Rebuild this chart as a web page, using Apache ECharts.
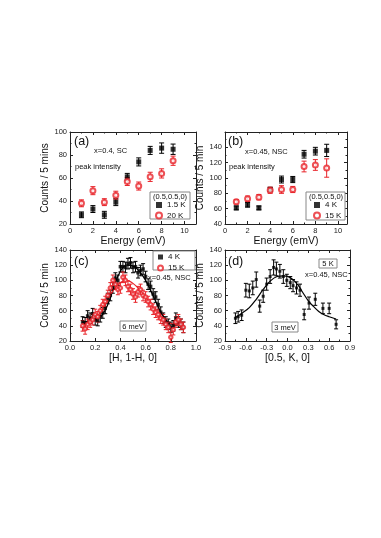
<!DOCTYPE html>
<html>
<head>
<meta charset="utf-8">
<script src="https://cdn.jsdelivr.net/npm/echarts@6/dist/echarts.min.js"></script>
<style>
  html, body { margin: 0; padding: 0; background: #fff; }
  #chart { width: 381px; height: 538px; }
</style>
</head>
<body>
<div id="chart"></div>
<script>
// panel (a): x=0.4 SC, peak intensity vs energy
var aEnergy = [1, 2, 3, 4, 5, 6, 7, 8, 9];
var aCold = [28, 33, 28, 39, 61, 74, 84, 86, 85];       // 1.5 K
var aColdErr = [2.5, 3, 3, 3, 3, 3.5, 3.5, 4.5, 4.5];
var aWarm = [38, 49, 39, 45, 57, 53, 61, 64, 75];       // 20 K
var aWarmErr = [3, 3.5, 3, 3.5, 3.5, 3.5, 4, 4, 4];

// panel (b): x=0.45 NSC
var bEnergy = [1, 2, 3, 4, 5, 6, 7, 8, 9];
var bCold = [61, 65, 61, 85, 98, 98, 131, 135, 136];   // 4 K
var bColdErr = [2.5, 3, 2.5, 3, 4.5, 4, 5, 5, 8];
var bWarm = [69, 73, 75, 84, 85, 85, 115, 117, 113];   // 15 K
var bWarmErr = [3, 3.5, 3.5, 4, 5, 4, 7, 7, 12];

// panel (c): scan along [H, 1-H, 0] at 6 meV
var cH = [0.10, 0.12, 0.14, 0.16, 0.18, 0.20, 0.22, 0.24, 0.26, 0.28, 0.30, 0.32, 0.34, 0.36,
  0.38, 0.40, 0.42, 0.44, 0.46, 0.48, 0.50, 0.52, 0.54, 0.56, 0.58, 0.60, 0.62, 0.64, 0.66,
  0.68, 0.70, 0.72, 0.74, 0.76, 0.78, 0.80, 0.82, 0.84, 0.86, 0.88, 0.90];
var cCold = [45, 44, 53, 50, 56, 48, 47, 52, 57, 63, 76, 80, 90, 103,
  100, 118, 118, 117, 122, 123, 117, 118, 110, 113, 115, 105, 95, 92, 82,
  78, 68, 58, 50, 45, 42, 38, 40, 50, 45, 42, 38];
var cWarm = [40, 36, 42, 45, 48, 55, 52, 60, 68, 72, 80, 90, 100, 95,
  88, 90, 104, 100, 92, 88, 82, 78, 85, 88, 80, 78, 72, 68, 62,
  58, 55, 50, 48, 42, 38, 25, 35, 45, 48, 42, 38];
var cErr = 7;
var cFitX = [0.10, 0.15, 0.20, 0.25, 0.30, 0.35, 0.40, 0.45, 0.50, 0.55, 0.60, 0.65, 0.70, 0.75, 0.80, 0.85, 0.90];
var cFitCold = [45, 46, 48, 53, 68, 92, 112, 120, 119, 112, 100, 83, 65, 50, 43, 41, 40];
var cFitWarm = [42, 45, 50, 60, 75, 88, 97, 100, 96, 88, 78, 66, 55, 47, 43, 41, 40];

// panel (d): scan along [0.5, K, 0] at 3 meV, 5 K
var dK = [-0.75, -0.71, -0.66, -0.60, -0.55, -0.50, -0.45, -0.40, -0.35, -0.30, -0.25, -0.20,
  -0.16, -0.11, -0.06, -0.01, 0.04, 0.08, 0.13, 0.18, 0.24, 0.31, 0.40, 0.51, 0.60, 0.70];
var dCounts = [50, 52, 54, 87, 86, 90, 101, 66, 79, 95, 105, 117,
  115, 112, 105, 100, 97, 93, 90, 87, 55, 70, 75, 63, 63, 42];
var dErr = [7, 7, 7, 9, 9, 9, 10, 8, 8, 8, 9, 10,
  9, 9, 9, 8, 8, 8, 8, 8, 7, 8, 8, 7, 7, 6];
var dFitX = [-0.75, -0.65, -0.55, -0.45, -0.35, -0.25, -0.15, -0.05, 0.05, 0.15, 0.22, 0.30, 0.37, 0.45, 0.52, 0.60, 0.70];
var dFit = [51, 57, 64, 75, 88, 99, 105, 106, 103, 94, 84, 73, 66, 59, 55, 52, 49];

var RED = '#e8242a';
var FONT = 'Liberation Sans';

function pairs(xs, ys) {
  return xs.map(function (x, i) { return [x, ys[i]]; });
}
function errData(xs, ys, es) {
  return xs.map(function (x, i) {
    var e = Array.isArray(es) ? es[i] : es;
    return [x, ys[i] - e, ys[i] + e];
  });
}
function errSeries(p, data, color, cap) {
  return {
    type: 'custom', xAxisIndex: 2 * p, yAxisIndex: 2 * p, z: 1,
    data: data, encode: { x: 0, y: [1, 2] }, silent: true,
    renderItem: function (params, api) {
      var top = api.coord([api.value(0), api.value(2)]);
      var bot = api.coord([api.value(0), api.value(1)]);
      var st = { stroke: color, lineWidth: 1 };
      return {
        type: 'group', children: [
          { type: 'line', shape: { x1: top[0], y1: top[1], x2: bot[0], y2: bot[1] }, style: st },
          { type: 'line', shape: { x1: top[0] - cap, y1: top[1], x2: top[0] + cap, y2: top[1] }, style: st },
          { type: 'line', shape: { x1: bot[0] - cap, y1: bot[1], x2: bot[0] + cap, y2: bot[1] }, style: st }
        ]
      };
    }
  };
}

var grids = [
  { left: 70, top: 132, width: 126, height: 92 },
  { left: 225, top: 132, width: 122, height: 92 },
  { left: 70, top: 250, width: 126, height: 91 },
  { left: 225, top: 250, width: 125, height: 91 }
];

var lineStyle = { color: '#222', width: 1 };
var labelStyle = { fontSize: 7.5, color: '#222', fontFamily: FONT };
var nameStyle = { fontSize: 10.5, color: '#111', fontFamily: FONT };

function xAxes(p, cfg) {
  var base = {
    gridIndex: p, type: 'value', min: cfg.min, max: cfg.max, interval: cfg.interval,
    axisLine: { show: true, onZero: false, lineStyle: lineStyle },
    axisTick: { show: true, inside: true, length: 3, lineStyle: lineStyle },
    minorTick: { show: true, splitNumber: 2, length: 1.5, lineStyle: lineStyle },
    splitLine: { show: false }
  };
  var bottom = Object.assign({}, base, {
    position: 'bottom', name: cfg.name, nameLocation: 'middle', nameGap: cfg.nameGap,
    nameTextStyle: nameStyle,
    axisLabel: Object.assign({ margin: 3, showMaxLabel: cfg.showMax, formatter: cfg.fmt }, labelStyle)
  });
  var top = Object.assign({}, base, { position: 'top', axisLabel: { show: false } });
  return [bottom, top];
}
function yAxes(p, cfg) {
  var base = {
    gridIndex: p, type: 'value', min: cfg.min, max: cfg.max, interval: cfg.interval,
    axisLine: { show: true, onZero: false, lineStyle: lineStyle },
    axisTick: { show: true, inside: true, length: 3, lineStyle: lineStyle },
    minorTick: { show: true, splitNumber: 2, length: 1.5, lineStyle: lineStyle },
    splitLine: { show: false }
  };
  var left = Object.assign({}, base, {
    position: 'left', name: cfg.name, nameLocation: 'middle', nameGap: cfg.nameGap,
    nameTextStyle: Object.assign({}, nameStyle, { fontSize: 10 }),
    axisLabel: Object.assign({ margin: 3, showMaxLabel: cfg.showMax }, labelStyle)
  });
  var right = Object.assign({}, base, { position: 'right', axisLabel: { show: false } });
  return [left, right];
}

var oneDec = function (v) { return v.toFixed(1); };

var xAxis = [].concat(
  xAxes(0, { min: 0, max: 11, interval: 2, name: 'Energy (emV)', nameGap: 9, showMax: false }),
  xAxes(1, { min: 0, max: 10.8, interval: 2, name: 'Energy (emV)', nameGap: 10, showMax: false }),
  xAxes(2, { min: 0, max: 1, interval: 0.2, name: '[H, 1-H, 0]', nameGap: 11, showMax: true, fmt: oneDec }),
  xAxes(3, { min: -0.9, max: 0.9, interval: 0.3, name: '[0.5, K, 0]', nameGap: 11, showMax: true, fmt: oneDec })
);
var yAxis = [].concat(
  yAxes(0, { min: 20, max: 100, interval: 20, name: 'Counts / 5 mins', nameGap: 13, showMax: true }),
  yAxes(1, { min: 40, max: 160, interval: 20, name: 'Counts / 5 min', nameGap: 16, showMax: false }),
  yAxes(2, { min: 20, max: 140, interval: 20, name: 'Counts / 5 min', nameGap: 16, showMax: true }),
  yAxes(3, { min: 20, max: 140, interval: 20, name: 'Counts / 5 min', nameGap: 15, showMax: true })
);

function scatter(p, name, data, symbol, color, size) {
  return {
    type: 'scatter', name: name, xAxisIndex: 2 * p, yAxisIndex: 2 * p, z: 3,
    symbol: symbol, symbolSize: size, data: data,
    itemStyle: symbol === 'emptyCircle' ? { color: RED, borderColor: RED, borderWidth: 1 } : { color: color }
  };
}
function fitLine(p, xs, ys, color) {
  return {
    type: 'line', xAxisIndex: 2 * p, yAxisIndex: 2 * p, z: 2, smooth: 0.4,
    showSymbol: false, silent: true, data: pairs(xs, ys),
    lineStyle: { color: color, width: 1.2 }
  };
}

var series = [
  errSeries(0, errData(aEnergy, aCold, aColdErr), '#000', 2.5),
  errSeries(0, errData(aEnergy, aWarm, aWarmErr), RED, 2.5),
  scatter(0, '1.5 K', pairs(aEnergy, aCold), 'rect', '#000', 5),
  scatter(0, '20 K', pairs(aEnergy, aWarm), 'emptyCircle', RED, 5),

  errSeries(1, errData(bEnergy, bCold, bColdErr), '#000', 2.5),
  errSeries(1, errData(bEnergy, bWarm, bWarmErr), RED, 2.5),
  scatter(1, '4 K', pairs(bEnergy, bCold), 'rect', '#000', 5),
  scatter(1, '15 K', pairs(bEnergy, bWarm), 'emptyCircle', RED, 5),

  errSeries(2, errData(cH, cCold, cErr), '#000', 2),
  errSeries(2, errData(cH, cWarm, cErr), RED, 2),
  fitLine(2, cFitX, cFitCold, '#000'),
  fitLine(2, cFitX, cFitWarm, RED),
  scatter(2, '4 K', pairs(cH, cCold), 'rect', '#000', 3.5),
  scatter(2, '15 K', pairs(cH, cWarm), 'emptyCircle', RED, 3.5),

  errSeries(3, errData(dK, dCounts, dErr), '#000', 2),
  fitLine(3, dFitX, dFit, '#000'),
  scatter(3, '5 K', pairs(dK, dCounts), 'rect', '#000', 3)
];

var legendText = { fontSize: 8, color: '#111', fontFamily: FONT };
var legend = [
  { data: ['1.5 K', '20 K'], left: 155, top: 201, orient: 'vertical', itemWidth: 6, itemHeight: 6,
    itemGap: 2.5, padding: 0, textStyle: legendText, selectedMode: false, z: 20 },
  { data: ['4 K', '15 K'], left: 313, top: 201, orient: 'vertical', itemWidth: 6, itemHeight: 6,
    itemGap: 2.5, padding: 0, textStyle: legendText, selectedMode: false, z: 20 },
  { data: ['4 K', '15 K'], left: 157, top: 253, orient: 'vertical', itemWidth: 5, itemHeight: 5,
    itemGap: 3, padding: 0, textStyle: legendText, selectedMode: false, z: 20 }
];

function txt(x, y, s, size, align) {
  return {
    type: 'text', x: x, y: y, z: 10,
    style: { text: s, fontSize: size, fontFamily: FONT, fill: '#111', align: align || 'left', verticalAlign: 'middle' }
  };
}
function box(x, y, w, h) {
  return {
    type: 'rect', z: 5, shape: { x: x, y: y, width: w, height: h },
    style: { fill: '#fff', stroke: '#888', lineWidth: 1 }
  };
}

var graphic = {
  z: 5,
  elements: [
    txt(74, 142, '(a)', 12.5),
    txt(94, 151, 'x=0.4, SC', 7.5),
    txt(75, 167, 'peak intensity', 7.5),
    box(150, 192, 40, 27),
    txt(170, 197, '(0.5,0.5,0)', 7.5, 'center'),

    txt(228, 142, '(b)', 12.5),
    txt(245, 152, 'x=0.45, NSC', 7.5),
    txt(229, 167, 'peak intensity', 7.5),
    box(306, 192, 39, 28),
    txt(326, 197, '(0.5,0.5,0)', 7.5, 'center'),

    txt(74, 262, '(c)', 12.5),
    box(153, 251, 42, 19),
    txt(148, 278, 'x=0.45, NSC', 7.5),
    box(120, 321, 26, 10),
    txt(133, 326.5, '6 meV', 7.5, 'center'),

    txt(228, 262, '(d)', 12.5),
    box(319, 259, 18, 9),
    txt(328, 264, '5 K', 7.5, 'center'),
    txt(305, 275, 'x=0.45, NSC', 7.5),
    box(272, 322, 26, 10),
    txt(285, 327.5, '3 meV', 7.5, 'center')
  ]
};

var chart = echarts.init(document.getElementById('chart'), null, { renderer: 'canvas' });
chart.setOption({
  animation: false,
  backgroundColor: '#fff',
  grid: grids,
  xAxis: xAxis,
  yAxis: yAxis,
  legend: legend,
  series: series,
  graphic: graphic
});
</script>
</body>
</html>
